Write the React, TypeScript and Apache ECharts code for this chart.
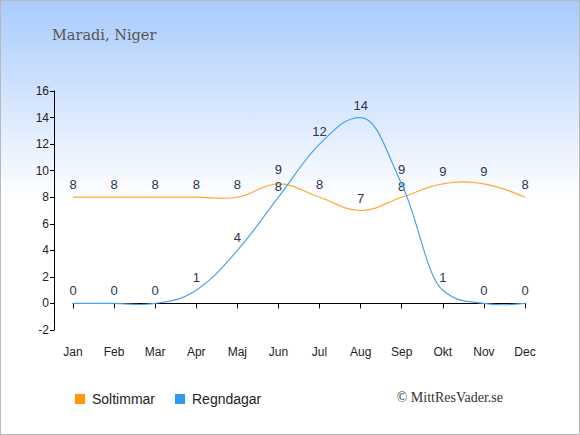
import React, { useEffect, useRef } from "react";
import * as echarts from "echarts";

const months = ["Jan", "Feb", "Mar", "Apr", "Maj", "Jun", "Jul", "Aug", "Sep", "Okt", "Nov", "Dec"];
const soltimmar = [8, 8, 8, 8, 8, 9, 8, 7, 8, 9, 9, 8];
const regndagar = [0, 0, 0, 1, 4, 8, 12, 14, 9, 1, 0, 0];
const title = "Maradi, Niger";
const credit = "© MittResVader.se";

function splinePath(pts: number[][]): string {
  const sm = 1.5;
  const den = sm + 1;
  const ctrl: { l?: number[]; r?: number[] }[] = pts.map(() => ({}));
  for (let i = 1; i < pts.length - 1; i++) {
    const [px, py] = pts[i];
    const [lx, ly] = pts[i - 1];
    const [nx, ny] = pts[i + 1];
    const lcx = (sm * px + lx) / den;
    let lcy = (sm * py + ly) / den;
    const rcx = (sm * px + nx) / den;
    let rcy = (sm * py + ny) / den;
    const corr = ((rcy - lcy) * (rcx - px)) / (rcx - lcx) + py - rcy;
    lcy += corr;
    rcy += corr;
    const eq = (a: number, b: number) => Math.abs(a - b) < 0.01;
    if (!eq(ly, py)) {
      if (lcy > ly && lcy > py) {
        lcy = Math.max(ly, py);
        rcy = 2 * py - lcy;
      } else if (lcy < ly && lcy < py) {
        lcy = Math.min(ly, py);
        rcy = 2 * py - lcy;
      }
    }
    if (!eq(ny, py)) {
      if (rcy > ny && rcy > py) {
        rcy = Math.max(ny, py);
        lcy = 2 * py - rcy;
      } else if (rcy < ny && rcy < py) {
        rcy = Math.min(ny, py);
        lcy = 2 * py - rcy;
      }
    }
    ctrl[i] = { l: [lcx, lcy], r: [rcx, rcy] };
  }
  let d = `M${pts[0][0]},${pts[0][1]}`;
  for (let i = 1; i < pts.length; i++) {
    const a = ctrl[i - 1].r || pts[i - 1];
    const b = ctrl[i].l || pts[i];
    d += ` C${a[0]},${a[1]} ${b[0]},${b[1]} ${pts[i][0]},${pts[i][1]}`;
  }
  return d;
}

function makeSeries(name: string, values: number[], other: number[], color: string, lineColor: string) {
  return {
    name,
    type: "custom",
    data: values.map((v, i) => [i, v]),
    encode: { x: 0, y: 1 },
    itemStyle: { color },
    clip: false,
    renderItem: (params: any, api: any) => {
      if (params.dataIndex !== 0) return null;
      const pts = values.map((v, i) => api.coord([i, v]));
      const children: any[] = [
        {
          type: "path",
          shape: { pathData: splinePath(pts) },
          style: { stroke: lineColor, fill: "none", lineWidth: 1.2 },
        },
      ];
      values.forEach((v, i) => {
        let nudge = 0;
        const diff = v - other[i];
        if (diff !== 0 && Math.abs(diff) <= 1) nudge = diff > 0 ? -1.5 : 1.5;
        children.push({
          type: "text",
          x: pts[i][0],
          y: pts[i][1] - 6 + nudge,
          style: {
            text: String(v),
            align: "center",
            verticalAlign: "bottom",
            fill: "#2b3550",
            fontSize: 13,
            lineHeight: 13,
            fontFamily: "Liberation Sans, Arial, sans-serif",
          },
        });
      });
      return { type: "group", children };
    },
  };
}

export default function App() {
  const ref = useRef<HTMLDivElement>(null);
  useEffect(() => {
    document.body.style.margin = "0";
    const chart = echarts.init(ref.current!, null, { renderer: "svg" });
    chart.setOption({
      animation: false,
      title: {
        text: title,
        left: 46,
        top: 21,
        textStyle: { fontFamily: "DejaVu Serif, Liberation Serif, serif", fontSize: 14.5, fontWeight: "normal", color: "#555" },
      },
      grid: { left: 72, right: 54, top: 90, bottom: 104 },
      legend: {
        left: 69,
        top: 386,
        itemWidth: 10,
        itemHeight: 10,
        itemGap: 20,
        icon: "rect",
        textStyle: { fontSize: 14, color: "#222", fontFamily: "Liberation Sans, Arial, sans-serif", padding: [0, 0, 0, 2] },
        data: ["Soltimmar", "Regndagar"],
      },
      graphic: [
        {
          type: "text",
          right: 76,
          top: 389,
          style: { text: credit, fontSize: 14, fill: "#333", fontFamily: "Liberation Serif, DejaVu Serif, serif" },
        },
      ],
      xAxis: {
        type: "category",
        data: months,
        boundaryGap: false,
        offset: 10,
        axisLine: { lineStyle: { color: "#000" } },
        axisTick: { alignWithLabel: true, length: 5, lineStyle: { color: "#000" } },
        axisLabel: { color: "#222", fontSize: 12, fontFamily: "Liberation Sans, Arial, sans-serif", margin: 6 },
      },
      yAxis: {
        type: "value",
        min: -2,
        max: 16,
        interval: 2,
        offset: 19,
        axisLine: { show: true, lineStyle: { color: "#000" } },
        axisTick: { show: true, length: 4, lineStyle: { color: "#000" } },
        splitLine: { show: false },
        axisLabel: { color: "#222", fontSize: 12, fontFamily: "Liberation Sans, Arial, sans-serif", margin: 5 },
      },
      series: [
        makeSeries("Soltimmar", soltimmar, regndagar, "#ff9900", "#ffaa33"),
        makeSeries("Regndagar", regndagar, soltimmar, "#3399ee", "#4aa3ec"),
      ],
    });
    return () => chart.dispose();
  }, []);
  return (
    <div
      style={{
        width: 580,
        height: 435,
        boxSizing: "border-box",
        border: "1px solid #b8b8b8",
        background: "linear-gradient(to bottom, #a9cbfc 0%, #ffffff 46%, #ffffff 100%)",
      }}
    >
      <div ref={ref} style={{ width: 578, height: 433 }} />
    </div>
  );
}
